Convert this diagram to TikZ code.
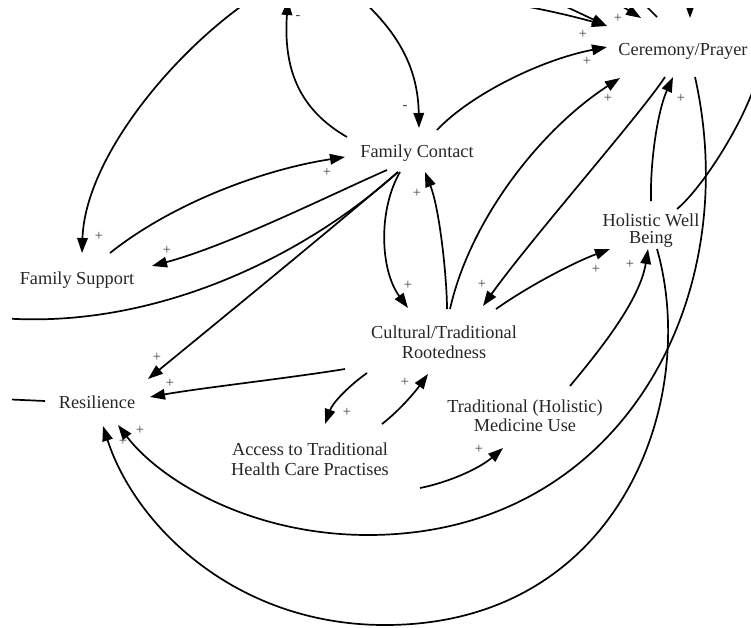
\documentclass[tikz,border=0pt]{standalone}
\usepackage{fontspec}
\setmainfont{Liberation Serif}
\usetikzlibrary{arrows.meta}
\begin{document}
\begin{tikzpicture}[x=1pt,y=-1pt,
  var/.style={inner sep=0pt, text=black!85, font=\fontsize{18.3}{20}\selectfont, text height=12.5pt, text depth=0pt},
  var2/.style={inner sep=0pt, align=center, text=black!85, font=\fontsize{18.3}{20}\selectfont},
  sign/.style={inner sep=0pt, text=black!75, font=\fontsize{14.5}{14.5}\selectfont},
  link/.style={line width=1.7pt, -{Triangle[length=15pt,width=10.5pt]}},
  stub/.style={line width=1.7pt}]
\useasboundingbox (0,0) rectangle (751,627);

% variables
\node[var] (cer) at (683,49) {Ceremony/Prayer};
\node[var] (fc) at (417,151) {Family Contact};
\node[var] (fs) at (77,278) {Family Support};
\node[var] (res) at (97,402) {Resilience};
\node[var2] (ctr) at (444,342) {Cultural/Traditional\\Rootedness};
\node[var2, font=\fontsize{18.3}{17}\selectfont] (hwb) at (651,231) {Holistic Well\\Being};
\node[var2] (acc) at (310,459) {Access to Traditional\\Health Care Practises};
\node[var2, font=\fontsize{18.3}{19}\selectfont] (tmu) at (525,416) {Traditional (Holistic)\\Medicine Use};

\begin{scope}
\clip (12,8) rectangle (751,627);
% loose ends leaving the view
\coordinate (offA) at (288,0);
\coordinate (offB) at (362,0);
\coordinate (offC) at (250,0);
\coordinate (offD) at (500,2);
\coordinate (offE) at (552,0);
\coordinate (offF) at (612,0);
\coordinate (offG) at (640,0);
\coordinate (offH) at (690,-5);
\coordinate (offL1) at (0,318);
\coordinate (offL2) at (0,399);
\coordinate (offR) at (756,82);

% family links
\draw[link] ([shift={(-70,-14)}]fc.center) .. controls (300,110) and (283,70) .. (offA);
\draw[link] (offB) .. controls (400,35) and (418,70) .. ([shift={(2,-23)}]fc.center);
\draw[link] (offC) .. controls (170,55) and (85,160) .. ([shift={(5,-25)}]fs.center);
\draw[link] ([shift={(33,-25)}]fs.center) .. controls (170,205) and (260,170) .. ([shift={(-72,6)}]fc.center);
\draw[link] ([shift={(-30,19)}]fc.center) .. controls (330,195) and (230,245) .. ([shift={(75,-12)}]fs.center);
\draw[stub] ([shift={(-19,21)}]fc.center) .. controls (300,260) and (150,330) .. (offL1);
\draw[link] ([shift={(-19,21)}]fc.center) .. controls (330,230) and (220,320) .. ([shift={(51,-23)}]res.center);

% rootedness links
\draw[link] ([shift={(-17,21)}]fc.center) .. controls (378,210) and (380,270) .. ([shift={(-36,-34)}]ctr.center);
\draw[link] ([shift={(3,-33)}]ctr.center) .. controls (447,280) and (440,210) .. ([shift={(8,21)}]fc.center);
\draw[link] ([shift={(6,-33)}]ctr.center) .. controls (470,220) and (540,130) .. ([shift={(-63,29)}]cer.center);
\draw[link] ([shift={(-18,28)}]cer.center) .. controls (640,115) and (530,240) .. ([shift={(39,-36)}]ctr.center);
\draw[link] ([shift={(20,-21)}]fc.center) .. controls (470,95) and (540,60) .. ([shift={(-76,-2)}]cer.center);

% inflows to ceremony from above
\draw[link] (offD) .. controls (540,8) and (580,18) .. ([shift={(-76,-23)}]cer.center);
\draw[link] (offE) -- ([shift={(-76,-23)}]cer.center);
\draw[link] (offF) -- ([shift={(-42,-31)}]cer.center);
\draw[stub] ([shift={(-26,-32)}]cer.center) -- (offG);
\draw[link] (offH) -- ([shift={(7,-31)}]cer.center);

% well being and resilience
\draw[link] ([shift={(0,-30)}]hwb.center) .. controls (650,160) and (658,110) .. ([shift={(-10,28)}]cer.center);
\draw[link] ([shift={(6,18)}]hwb.center) .. controls (700,400) and (620,625) .. (385,625)
  .. controls (235,625) and (135,525) .. ([shift={(6,24)}]res.center);
\draw[link] ([shift={(12,28)}]cer.center) .. controls (745,300) and (620,535) .. (368,535)
  .. controls (250,535) and (160,480) .. ([shift={(21,23)}]res.center);
\draw[link] ([shift={(52,-33)}]ctr.center) .. controls (530,285) and (575,262) .. ([shift={(-41,18)}]hwb.center);
\draw[stub] ([shift={(26,-22)}]hwb.center) .. controls (700,190) and (740,130) .. (offR);
\draw[link] ([shift={(-99,27)}]ctr.center) .. controls (290,378) and (200,388) .. ([shift={(53,-5)}]res.center);
\draw[link] ([shift={(-77,31)}]ctr.center) .. controls (350,385) and (333,402) .. ([shift={(15,-35)}]acc.center);
\draw[link] ([shift={(72,-35)}]acc.center) .. controls (400,410) and (415,392) .. ([shift={(-16,32)}]ctr.center);
\draw[link] ([shift={(110,29)}]acc.center) .. controls (450,482) and (480,468) .. ([shift={(-22,32)}]tmu.center);
\draw[link] ([shift={(45,-30)}]tmu.center) .. controls (600,350) and (640,300) .. ([shift={(-3,18)}]hwb.center);
\draw[stub] ([shift={(-52,-1)}]res.center) -- (offL2);
\end{scope}

% polarity signs
\node[sign] (s1) at (298,18) {-};
\node[sign] (s2) at (405,108) {-};
\node[sign] (s3) at (99,236) {+};
\node[sign] (s4) at (327,172) {+};
\node[sign] (s5) at (167,250) {+};
\node[sign] (s6) at (157,357) {+};
\node[sign] (s7) at (408,285) {+};
\node[sign] (s8) at (417,193) {+};
\node[sign] (s9) at (608,98) {+};
\node[sign] (s10) at (482,284) {+};
\node[sign] (s11) at (587,61) {+};
\node[sign] (s12) at (583,34) {+};
\node[sign] (s13) at (618,18) {+};
\node[sign] (s14) at (681,98) {+};
\node[sign] (s15) at (596,269) {+};
\node[sign] (s16) at (170,383) {+};
\node[sign] (s17) at (347,412) {+};
\node[sign] (s18) at (405,382) {+};
\node[sign] (s19) at (479,449) {+};
\node[sign] (s20) at (630,264) {+};
\node[sign] (s21) at (140,430) {+};
\node[sign] (s22) at (123,441) {+};
\end{tikzpicture}
\end{document}
